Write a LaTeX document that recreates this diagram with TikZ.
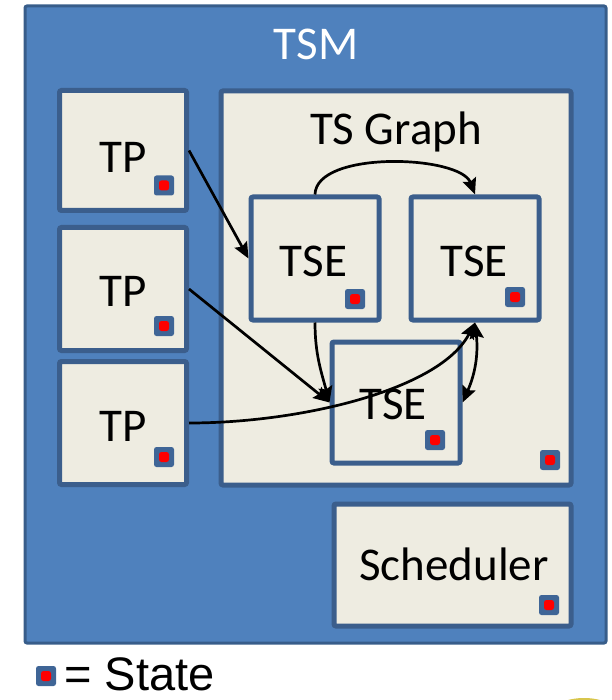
\documentclass[tikz,border=0pt]{standalone}
\usepackage{fontspec}
\setmainfont{Carlito}
\newfontfamily\arialf{Liberation Sans}
\usetikzlibrary{arrows.meta,calc}
\definecolor{tsmfill}{HTML}{4F81BD}
\definecolor{tsmdraw}{HTML}{385D8A}
\definecolor{boxfill}{HTML}{EEECE1}
\definecolor{boxdraw}{HTML}{3B5E8C}
\definecolor{statefill}{HTML}{3F6596}
\definecolor{logoyellow}{HTML}{D8C64C}
\tikzset{
  outerbox/.style={draw=tsmdraw, fill=tsmfill, line width=3pt, rounded corners=2pt, inner sep=0pt},
  box/.style={draw=boxdraw, fill=boxfill, line width=5pt, rounded corners=2pt, inner sep=0pt},
  label text/.style={inner sep=0pt, anchor=base, font=\fontsize{47}{50}\selectfont},
  statebox/.style={fill=statefill, rounded corners=2.5pt, minimum width=20pt, minimum height=20pt, inner sep=0pt,
    path picture={\fill[red] ($(path picture bounding box.center)+(-5pt,-5pt)$) rectangle ++(10pt,10pt);}},
  conn/.style={line width=2.7pt, black, -{Stealth[length=16pt,width=14pt,inset=2.5pt]}},
  dconn/.style={line width=2.7pt, black, {Stealth[length=16pt,width=14pt,inset=2.5pt]}-{Stealth[length=16pt,width=14pt,inset=2.5pt]}}
}
\begin{document}
\begin{tikzpicture}[x=1pt,y=-1pt]
\useasboundingbox (0,0) rectangle (611,700);
\begin{scope}
\clip (0,0) rectangle (611,700);
\fill[logoyellow] (584,713) ellipse [x radius=32, y radius=15];
\end{scope}
% outer TSM box
\node[outerbox, minimum width=581pt, minimum height=637pt] (tsm) at (315.5,324.5) {};
\node[label text, text=white] (tsmtext) at (316,60) {TSM};
% TP boxes
\node[box, minimum width=127pt, minimum height=120pt] (tp1) at (123,150.5) {};
\node[box, minimum width=127pt, minimum height=123pt] (tp2) at (123,289) {};
\node[box, minimum width=127pt, minimum height=123pt] (tp3) at (123,423) {};
\node[label text] (tp1t) at (123,173) {TP};
\node[label text] (tp2t) at (123,306) {TP};
\node[label text] (tp3t) at (123,441) {TP};
\node[statebox] (s1) at (164,185.5) {};
\node[statebox] (s2) at (164,326) {};
\node[statebox] (s3) at (164,457) {};
% TS Graph
\node[box, minimum width=350pt, minimum height=394pt] (tsg) at (396,288) {};
\node[label text] (tsgt) at (396,145) {TS Graph};
\node[statebox] (sg) at (550,460) {};
% TSE boxes
\node[box, minimum width=128pt, minimum height=123pt] (tse1) at (315,258.5) {};
\node[box, minimum width=128pt, minimum height=123pt] (tse2) at (475,258.5) {};
\node[box, minimum width=128pt, minimum height=121pt] (tse3) at (396,402.5) {};
\node[label text] (tse1t) at (313.5,276) {TSE};
\node[label text] (tse2t) at (474,276) {TSE};
\node[label text] (tse3t) at (393,419) {TSE};
\node[statebox] (se1) at (355,299) {};
\node[statebox] (se2) at (515,297) {};
\node[statebox] (se3) at (435,440) {};
% Scheduler
\node[box, minimum width=237pt, minimum height=122pt] (sch) at (452.5,565) {};
\node[label text] (scht) at (454,580) {Scheduler};
\node[statebox] (ss) at (549,605) {};
% legend
\node[statebox] (sl) at (46,676) {};
\node[inner sep=0pt, anchor=base west, font=\arialf\fontsize{47}{50}\selectfont] (legt) at (64,690) {= State};
% connectors
\draw[conn] (tp1.east) -- (tse1.west);
\draw[conn] (tse1.north) .. controls (316,150) and (460,155) .. (tse2.north);
\draw[conn] (tp2.east) -- (tse3.west);
\draw[conn] (tse1.south) to[out=-90, in=105] (tse3.west);
\draw[conn] (tp3.east) .. controls (300,423) and (440,390) .. (tse2.south);
\draw[dconn] (tse3.east) to[bend right=15] (tse2.south);
\end{tikzpicture}
\end{document}
